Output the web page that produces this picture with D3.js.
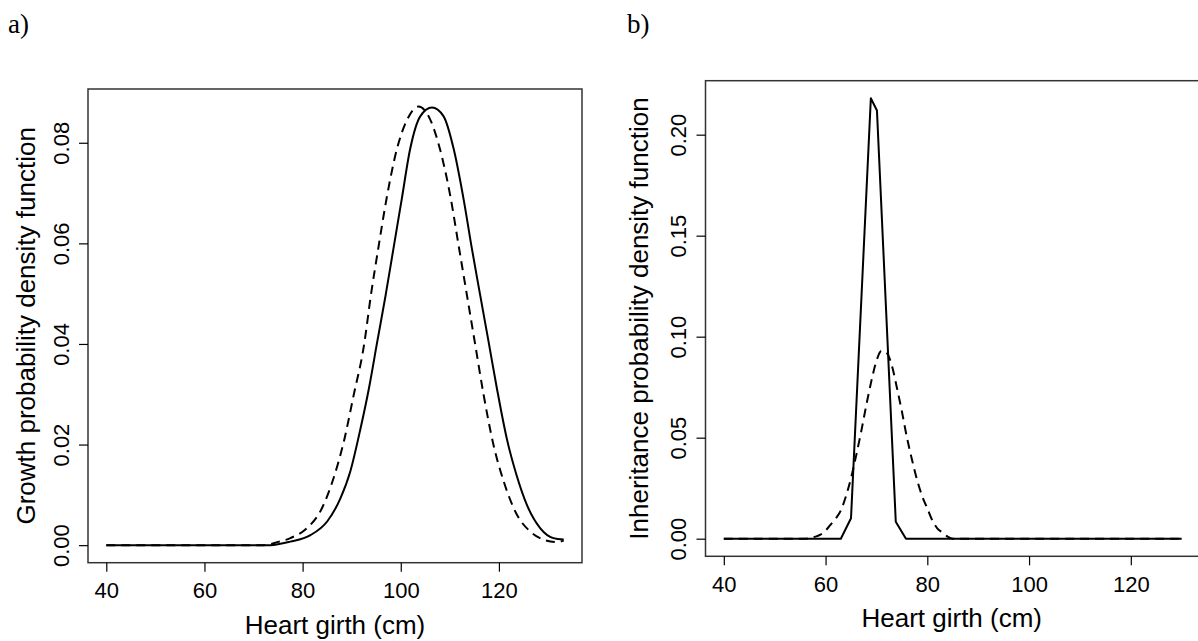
<!DOCTYPE html>
<html><head><meta charset="utf-8">
<script src="https://cdn.jsdelivr.net/npm/d3@7"></script>
<style>body{margin:0;background:#fff;overflow:hidden} svg{display:block;background:#fff}</style>
</head><body>
<svg id="chart" width="1198" height="641"></svg>
<script>
// ---------- data ----------
const xTicks = [40, 60, 80, 100, 120];
const growthYTicks = [0, 0.02, 0.04, 0.06, 0.08];
const inheritYTicks = [0, 0.05, 0.10, 0.15, 0.20];

// panel a) growth pdf
const growthSolidX = [40, 69.4, 73.4, 77.5, 81.6, 85.0, 87.7, 89.7, 91.8, 93.5, 95.2, 96.9, 98.5, 100.2, 101.9, 104.0, 106.35, 108.7, 110.8, 112.8, 114.5, 116.2, 117.9, 119.6, 121.6, 123.6, 125.7, 128.4, 131.1, 133.2];
const growthSolidY = [0, 0, 0, 0.0007, 0.0020, 0.0047, 0.0093, 0.0146, 0.0232, 0.0311, 0.0404, 0.0496, 0.0589, 0.0688, 0.0787, 0.0853, 0.0870, 0.0853, 0.0787, 0.0688, 0.0589, 0.0496, 0.0404, 0.0311, 0.0212, 0.0139, 0.0080, 0.0034, 0.0014, 0.0011];
const growthDashX = [40, 72.1, 74.8, 77.5, 80.9, 83.6, 86.3, 88.4, 90.4, 92.5, 93.9, 95.5, 97.2, 99.2, 101.3, 103.6, 106.0, 108.0, 110.1, 111.8, 113.5, 115.2, 116.9, 118.9, 121.0, 123.7, 126.4, 129.1, 131.8, 133.2];
const growthDashY = [0, 0, 0.0006, 0.0014, 0.0034, 0.0067, 0.0133, 0.0206, 0.0298, 0.0397, 0.0496, 0.0595, 0.0694, 0.0787, 0.0846, 0.0872, 0.0846, 0.0787, 0.0694, 0.0595, 0.0496, 0.0397, 0.0298, 0.0199, 0.0126, 0.0060, 0.0027, 0.0011, 0.0006, 0.0009];

// panel b) inheritance pdf
const inheritSolidX = [40, 63.0, 65.0, 68.9, 70.1, 73.8, 75.8, 130];
const inheritSolidY = [0, 0, 0.0101, 0.218, 0.212, 0.0084, 0, 0];
const inheritDashX = [40, 56, 58, 59, 60, 61, 62, 63, 64, 65, 66, 67, 68, 69, 70, 71, 72, 73, 74, 75, 76, 77, 78, 79, 80, 81, 82, 83, 84, 85, 87, 130];
const inheritDashY = [0, 0, 0.001, 0.002, 0.004, 0.007, 0.010, 0.014, 0.021, 0.030, 0.041, 0.053, 0.066, 0.078, 0.088, 0.093, 0.092, 0.086, 0.075, 0.063, 0.050, 0.039, 0.029, 0.021, 0.015, 0.009, 0.005, 0.003, 0.001, 0, 0, 0];

// ---------- drawing ----------
const svg = d3.select('#chart');
const SANS = '"Liberation Sans", Arial, sans-serif';
function rPad(ext){ const p = (ext[1]-ext[0])*0.04; return [ext[0]-p, ext[1]+p]; }

function panel(cfg){
  const g = svg.append('g');
  const allX = cfg.series.flatMap(s => s.x), allY = cfg.series.flatMap(s => s.y);
  const x = d3.scaleLinear().domain(rPad(d3.extent(allX))).range([cfg.left, cfg.right]);
  const y = d3.scaleLinear().domain(rPad(d3.extent(allY))).range([cfg.bottom, cfg.top]);

  cfg.series.forEach(s => {
    const pts = s.x.map((v,i) => [v, s.y[i]]);
    const line = d3.line().x(d => x(d[0])).y(d => y(d[1])).curve(s.curve);
    g.append('path').attr('d', line(pts)).attr('fill','none')
      .attr('stroke','#000').attr('stroke-width', 2)
      .attr('stroke-linejoin','round')
      .attr('stroke-dasharray', s.dash ? '9,6' : null);
  });

  // box
  g.append('rect').attr('x', cfg.left).attr('y', cfg.top)
    .attr('width', cfg.right-cfg.left).attr('height', cfg.bottom-cfg.top)
    .attr('fill','none').attr('stroke','#333').attr('stroke-width',1.5);

  // x axis
  const xa = g.append('g').attr('transform', `translate(0,${cfg.bottom})`)
    .call(d3.axisBottom(x).tickValues(xTicks).tickSize(9).tickFormat(d3.format('d')));
  xa.select('.domain').remove();
  xa.selectAll('.tick line').attr('stroke','#000').attr('stroke-width',1.2);
  xa.selectAll('.tick text').attr('y', 35.6).attr('dy', null)
    .attr('font-family', SANS).attr('font-size', 22).attr('fill','#000');

  // y axis
  const ya = g.append('g').attr('transform', `translate(${cfg.left},0)`)
    .call(d3.axisLeft(y).tickValues(cfg.yTicks).tickSize(9).tickFormat(d3.format('.2f')));
  ya.select('.domain').remove();
  ya.selectAll('.tick line').attr('stroke','#000').attr('stroke-width',1.2);
  ya.selectAll('.tick text').attr('x', null).attr('dy', null)
    .attr('transform', `translate(${-cfg.yLabGap},0) rotate(-90)`)
    .attr('text-anchor','middle')
    .attr('font-family', SANS).attr('font-size', 22).attr('fill','#000');

  // titles
  g.append('text').attr('x', (cfg.left + Math.min(cfg.right,1198+2))/2 - (cfg.right>1198?1:0)).attr('y', cfg.bottom + 70.8)
    .attr('text-anchor','middle').attr('font-family', SANS).attr('font-size', 26)
    .text('Heart girth (cm)');
  g.append('text').attr('transform', `translate(${cfg.yTitleX},${(cfg.top+cfg.bottom)/2}) rotate(-90)`)
    .attr('text-anchor','middle').attr('font-family', SANS).attr('font-size', 26)
    .text(cfg.yTitle);
  svg.append('text').attr('x', cfg.tagX).attr('y', 33)
    .attr('font-family','"Liberation Serif", "DejaVu Serif", serif').attr('font-size', 27)
    .text(cfg.tag);
}

panel({
  left: 88, right: 582, top: 89, bottom: 562.7,
  yTicks: growthYTicks, yLabGap: 19, yTitleX: 35,
  yTitle: 'Growth probability density function', tag: 'a)', tagX: 8,
  series: [
    {x: growthSolidX, y: growthSolidY, dash: false, curve: d3.curveMonotoneX},
    {x: growthDashX, y: growthDashY, dash: true, curve: d3.curveMonotoneX}
  ]
});
panel({
  left: 705.5, right: 1200, top: 80.7, bottom: 556.3,
  yTicks: inheritYTicks, yLabGap: 20, yTitleX: 648,
  yTitle: 'Inheritance probability density function', tag: 'b)', tagX: 627,
  series: [
    {x: inheritSolidX, y: inheritSolidY, dash: false, curve: d3.curveLinear},
    {x: inheritDashX, y: inheritDashY, dash: true, curve: d3.curveMonotoneX}
  ]
});
</script>
</body></html>
